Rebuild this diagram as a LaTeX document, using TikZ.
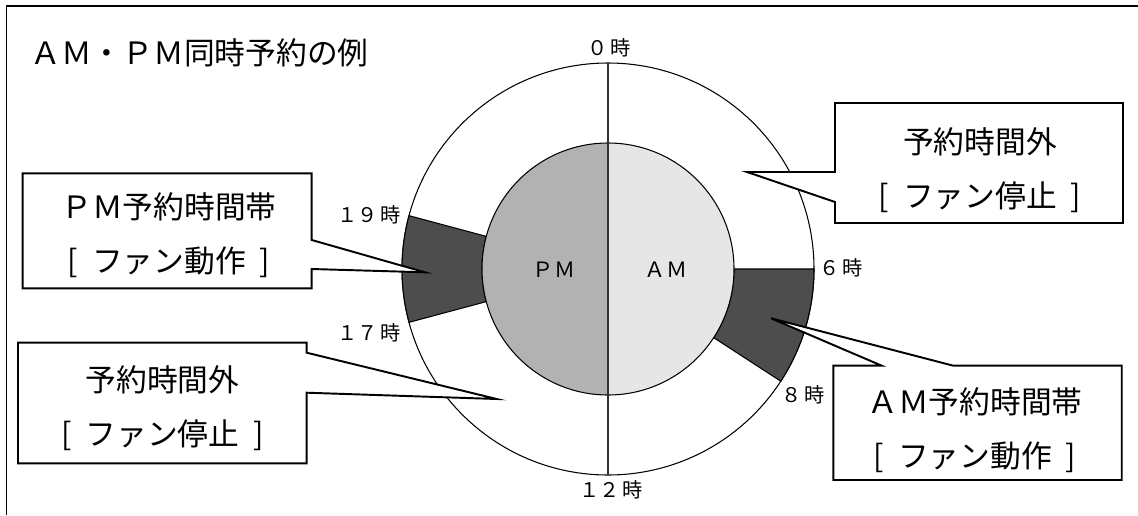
\documentclass[tikz,border=0pt]{standalone}
\usepackage{fontspec}
\setmainfont{Noto Sans CJK JP}
\definecolor{bandgray}{HTML}{4D4D4D}
\definecolor{pmgray}{HTML}{B2B2B2}
\definecolor{amgray}{HTML}{E6E6E6}
\tikzset{
	bubble/.style = {draw, line width=1.1pt, fill=white, line join=miter},
	bubbletext/.style = {align=center, inner sep=0pt, font=\fontsize{17.5}{30.7}\selectfont},
	hourlabel/.style = {inner sep=0pt, font=\fontsize{11.5}{13}\selectfont},
	ampm/.style = {inner sep=0pt, font=\fontsize{12}{14}\selectfont}
}
\newcommand{\brk}[1]{[\hspace{0.45em}#1\hspace{0.45em}]}

\begin{document}
\begin{tikzpicture}[x=0.02cm, y=0.02cm]
	\useasboundingbox (0,0) rectangle (1138,515);
	% frame and title
	\draw [line width=1.1pt] (6.5,0) -- (6.5,509) -- (1138,509);
	\node [anchor=west, inner sep=0pt, font=\fontsize{17.5}{20}\selectfont] (title) at (30,462) {ＡＭ・ＰＭ同時予約の例};
	% clock
	\begin{scope}[shift={(608,246)}, line width=0.6pt]
		\draw [fill = white] (0,0) circle (206);
		\draw [fill = bandgray] (0:126) -- (0:206) arc [start angle=0, end angle=-33, radius=206] -- (-33:126) arc [start angle=-33, end angle=0, radius=126] -- cycle;
		\draw [fill = bandgray] (165:126) -- (165:206) arc [start angle=165, end angle=195, radius=206] -- (195:126) arc [start angle=195, end angle=165, radius=126] -- cycle;
		\draw [fill = pmgray] (90:126) arc [start angle=90, end angle=270, radius=126] -- cycle;
		\draw [fill = amgray] (-90:126) arc [start angle=-90, end angle=90, radius=126] -- cycle;
		\draw [black!80] (90:206) -- (270:206);
		\node [ampm] (pm) at (-54,-1) {ＰＭ};
		\node [ampm] (am) at (58,-1) {ＡＭ};
	\end{scope}
	% hours
	\node [hourlabel] (h0) at (609,467) {０\hspace{0.1em}時};
	\node [hourlabel] (h6) at (841,247) {６\hspace{0.1em}時};
	\node [hourlabel] (h8) at (803,120) {８\hspace{0.1em}時};
	\node [hourlabel] (h12) at (611,25) {１２\hspace{0.1em}時};
	\node [hourlabel] (h17) at (369,182) {１７\hspace{0.1em}時};
	\node [hourlabel] (h19) at (369,300) {１９\hspace{0.1em}時};
	% callouts
	\coordinate (tipoffam) at (747,343);
	\coordinate (tippm) at (425,242.7);
	\coordinate (tipoffpm) at (496.7,116);
	\coordinate (tipam) at (771,196.7);
	\draw [bubble] (835,343) -- (tipoffam) -- (835,313) -- (835,292) -- (1123,292) -- (1123,412) -- (835,412) -- cycle;
	\draw [bubble] (311.7,275) -- (tippm) -- (311.7,246) -- (311.7,226.7) -- (22.7,226.7) -- (22.7,341.7) -- (311.7,341.7) -- cycle;
	\draw [bubble] (306.7,162.3) -- (tipoffpm) -- (306.7,122.3) -- (306.7,51.7) -- (18,51.7) -- (18,172.3) -- (306.7,172.3) -- cycle;
	\draw [bubble] (881.7,149.3) -- (tipam) -- (953.3,149.3) -- (1121.7,149.3) -- (1121.7,35) -- (833.3,35) -- (833.3,149.3) -- cycle;
	\node [bubbletext] (offam) at (980,345) {予約時間外\\\brk{ファン停止}};
	\node [bubbletext] (pmon) at (169,279.5) {ＰＭ予約時間帯\\\brk{ファン動作}};
	\node [bubbletext] (offpm) at (162.5,107) {予約時間外\\\brk{ファン停止}};
	\node [bubbletext] (amon) at (975,85) {ＡＭ予約時間帯\\\brk{ファン動作}};
\end{tikzpicture}
\end{document}
